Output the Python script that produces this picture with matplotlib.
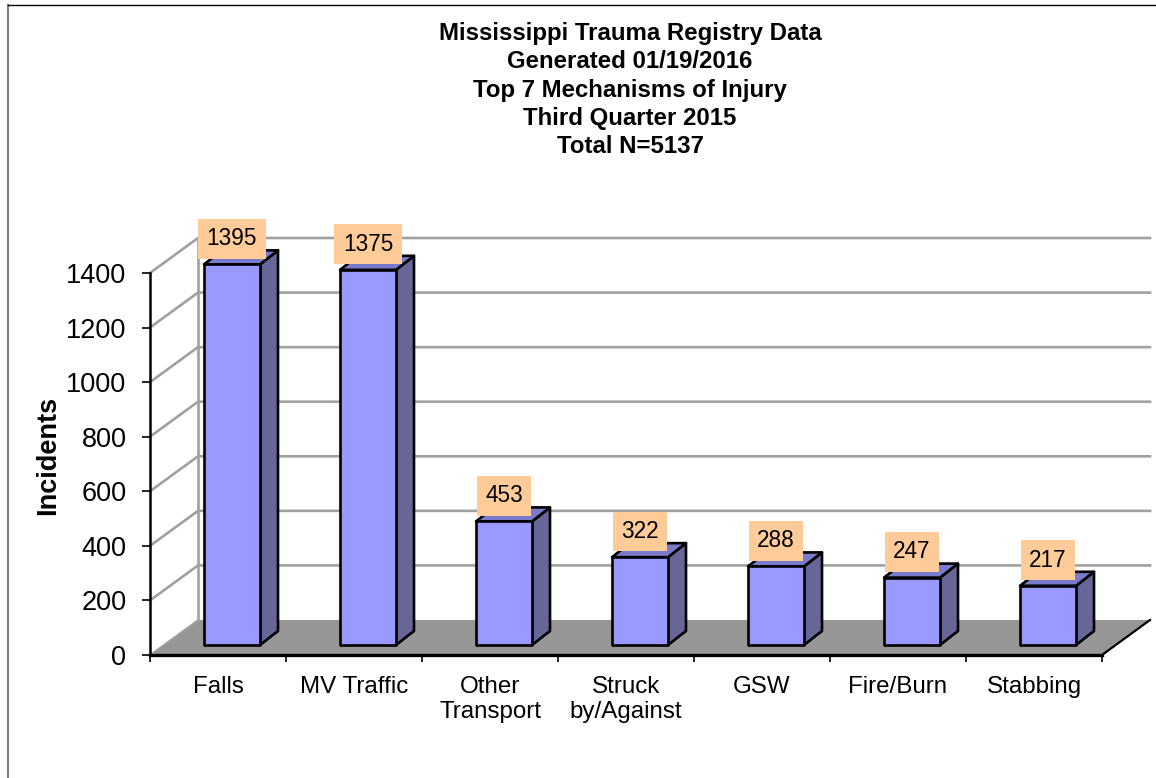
import matplotlib
matplotlib.use("Agg")
import matplotlib.pyplot as plt
from matplotlib.lines import Line2D
from matplotlib.patches import Polygon

plt.rcParams['font.family'] = ['Liberation Sans', 'DejaVu Sans']

categories = ['Falls', 'MV Traffic', 'Other\nTransport', 'Struck\nby/Against', 'GSW', 'Fire/Burn', 'Stabbing']
values = [1395, 1375, 453, 322, 288, 247, 217]
yticks = [0, 200, 400, 600, 800, 1000, 1200, 1400]
title_lines = ['Mississippi Trauma Registry Data', 'Generated 01/19/2016',
               'Top 7 Mechanisms of Injury', 'Third Quarter 2015', 'Total N=5137']

W, H = 1156, 778
fig = plt.figure(figsize=(W / 100, H / 100), dpi=100, facecolor='white')

# axes box is the front plane of the fake 3d chart
ax = fig.add_axes([150 / W, (H - 655) / H, 952 / W, 382 / H])
ax.set_xlim(0, len(categories))
ax.set_ylim(0, 1400)
ax.patch.set_visible(False)

# depth of the floor and of the bars, in data units
px_x = 1 / 136
px_y = 1400 / 382
depth_x = 48 * px_x
depth_y = 35 * px_y
nx = len(categories)

# floor and back wall
ax.add_patch(Polygon([(0, 0), (nx, 0), (nx + depth_x, depth_y), (depth_x, depth_y)],
                     fc='#969696', ec='none', zorder=1, clip_on=False))
ax.plot([nx, nx + depth_x], [0, depth_y], color='black', lw=1.6, zorder=2, clip_on=False)
ax.plot([depth_x, depth_x], [depth_y, 1400 + depth_y], color='#a0a0a0', lw=1.9, zorder=1, clip_on=False)
for t in yticks[1:]:
    ax.plot([0, depth_x, nx + depth_x], [t, t + depth_y, t + depth_y],
            color='#a0a0a0', lw=1.9, zorder=1, clip_on=False)
ax.plot([0, depth_x], [0, depth_y], color='#a0a0a0', lw=1.2, zorder=1, clip_on=False)

# bars
bar_left = 54 * px_x
bar_w = 56 * px_x
front_y = 10 * px_y
side_x = 18 * px_x
side_y = 14 * px_y
for i, v in enumerate(values):
    x0 = i + bar_left
    x1 = x0 + bar_w
    y0 = front_y
    y1 = front_y + v
    ax.add_patch(Polygon([(x1, y0), (x1 + side_x, y0 + side_y), (x1 + side_x, y1 + side_y), (x1, y1)],
                         fc='#666699', ec='black', lw=1.9, zorder=3, clip_on=False, joinstyle='round'))
    ax.add_patch(Polygon([(x0, y1), (x1, y1), (x1 + side_x, y1 + side_y), (x0 + side_x, y1 + side_y)],
                         fc='#7a7acc', ec='black', lw=1.9, zorder=3, clip_on=False, joinstyle='round'))
    ax.add_patch(Polygon([(x0, y0), (x1, y0), (x1, y1), (x0, y1)],
                         fc='#9999ff', ec='black', lw=1.9, zorder=4, clip_on=False, joinstyle='round'))
    ax.annotate(str(v), (x0 + bar_w / 2, y1), xytext=(0, 18.5), textcoords='offset points',
                ha='center', va='center', fontsize=16.3, color='black', zorder=6, annotation_clip=False,
                bbox=dict(boxstyle='square,pad=0.37', fc='#ffcc99', ec='none'))

# axes
for s in ['top', 'right']:
    ax.spines[s].set_visible(False)
ax.spines['left'].set_linewidth(1.8)
ax.spines['bottom'].set_linewidth(2.4)
ax.spines['left'].set_zorder(5)
ax.spines['bottom'].set_zorder(5)
ax.set_yticks(yticks)
ax.tick_params(axis='y', labelsize=19.5, length=6, width=1.2, pad=11)
ax.set_xticks(range(nx + 1))
ax.set_xticklabels([])
ax.set_xticks([i + 0.5 for i in range(nx)], minor=True)
ax.set_xticklabels(categories, minor=True, fontsize=17.4)
ax.tick_params(axis='x', which='major', length=5, width=1.2)
ax.tick_params(axis='x', which='minor', length=0, pad=15)
for lab in ax.get_xticklabels(minor=True):
    lab.set_linespacing(1.2)

fig.text(48 / W, 1 - 455 / H, 'Incidents', rotation=90, ha='center', va='center',
         fontsize=19.5, fontweight='bold')
fig.text(630 / W, 1 - 90 / H, '\n'.join(title_lines), ha='center', va='center',
         fontsize=17.3, fontweight='bold', linespacing=1.28)

# outer frame of the original chart area
fig.add_artist(Line2D([8 / W, 8 / W], [0, 1 - 5 / H], color='#808080', lw=1.5))
fig.add_artist(Line2D([8 / W, 1], [1 - 5 / H, 1 - 5 / H], color='black', lw=1.0))

fig.savefig('out.png', dpi=100)
